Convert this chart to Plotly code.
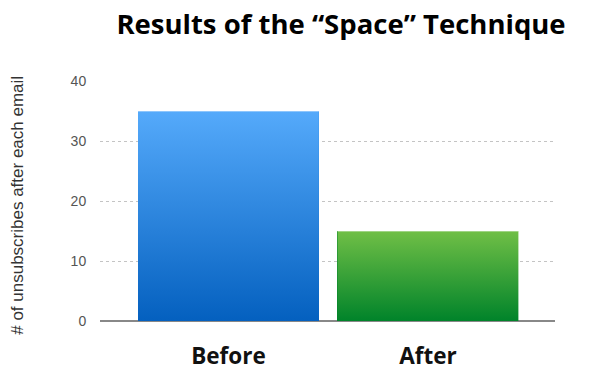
import plotly.graph_objects as go

categories = ["Before", "After"]
values = [35, 15]
top_colors = ["#55AAFB", "#70BF46"]
bottom_colors = ["#0460BF", "#00832A"]
y_ticks = [0, 10, 20, 30, 40]

bar_width = 0.907
L, R, T, B = 100, 45, 81, 62
W, H = 600, 383

fig = go.Figure()
xs = list(range(len(categories)))
fig.add_trace(go.Bar(x=xs, y=values, width=bar_width, marker=dict(color=bottom_colors, line=dict(width=0)),
                     hoverinfo="skip", showlegend=False))
for i, (c, v) in enumerate(zip(categories, values)):
    x0, x1 = i - bar_width / 2, i + bar_width / 2
    fig.add_trace(go.Scatter(
        x=[x0, x1, x1, x0, x0], y=[0, 0, v, v, 0], mode="lines", fill="toself",
        line=dict(width=0, color="rgba(0,0,0,0)"),
        fillgradient=dict(type="vertical", colorscale=[[0, bottom_colors[i]], [1, top_colors[i]]],
                          start=0, stop=v),
        hoverinfo="skip", showlegend=False, name=c))
    fig.add_trace(go.Scatter(x=[x0, x1], y=[v, v], mode="lines",
                             line=dict(width=1.5, color="rgba(255,255,255,0.45)"),
                             hoverinfo="skip", showlegend=False))

fig.update_layout(
    width=W, height=H, margin=dict(l=L, r=R, t=T, b=B, autoexpand=False),
    paper_bgcolor="white", plot_bgcolor="white",
    title=dict(text="<b>Results of the “Space” Technique</b>", x=341 / W, xanchor="center",
               y=1 - 24 / H, yanchor="middle",
               font=dict(family="Open Sans", size=27.5, color="black")),
    bargap=0,
    xaxis=dict(range=[-0.644, 1.637], tickvals=xs, ticktext=["<b>%s</b>" % c for c in categories],
               tickfont=dict(family="Open Sans", size=22.5, color="#111"),
               showgrid=False, zeroline=False, showline=False, ticks="outside", ticklen=15,
               tickcolor="rgba(0,0,0,0)", fixedrange=True, automargin=False),
    yaxis=dict(range=[0, 40], tickvals=y_ticks, tickfont=dict(family="Liberation Sans", size=14, color="#555"),
               showgrid=True, gridcolor="#c4c4c4", griddash="dot", gridwidth=1,
               zeroline=True, zerolinecolor="#888", zerolinewidth=2, showline=False,
               ticks="outside", ticklen=10, tickcolor="rgba(0,0,0,0)", fixedrange=True, automargin=False),
    annotations=[dict(text="# of unsubscribes after each email", textangle=-90,
                      xref="paper", yref="paper", x=(18 - L) / (W - L - R), y=0.48,
                      xanchor="center", yanchor="middle", showarrow=False,
                      font=dict(family="Liberation Sans", size=17, color="#333"))],
)
fig.write_html("out.html")
